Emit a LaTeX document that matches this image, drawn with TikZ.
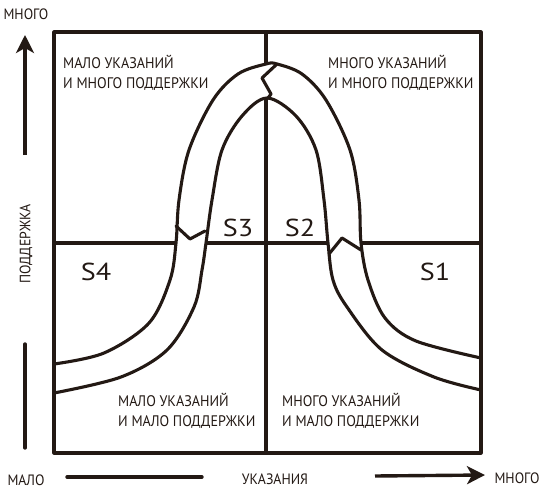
\documentclass[tikz,border=0pt]{standalone}
\usepackage{fontspec}
\setmainfont{PT Sans}
\newfontfamily\condfont{PT Sans}[FakeStretch=0.92]
\newfontfamily\widefont{PT Sans}[FakeStretch=1.15]
\usetikzlibrary{arrows.meta}
\definecolor{ink}{RGB}{35,25,20}
\tikzset{
  ln/.style={draw=ink, line width=3.1pt, line cap=round, line join=round},
  axisarrow/.style={draw=ink, line width=3.4pt, -{Stealth[length=18pt,width=18pt,inset=5pt]}},
  axisline/.style={draw=ink, line width=3.4pt, line cap=round},
  qtext/.style={text=ink, font=\condfont\fontsize{15.3}{20}\selectfont, align=left, inner sep=0pt},
  atext/.style={text=ink, font=\condfont\fontsize{15}{17}\selectfont, inner sep=0pt},
  stext/.style={text=ink, font=\widefont\fontsize{24.5}{26}\selectfont, inner sep=0pt},
}
\begin{document}
\begin{tikzpicture}[x=1pt,y=-1pt]
\useasboundingbox (0,0) rectangle (544,495);
% box corners
\coordinate (tl) at (54,32);
\coordinate (tr) at (481,32);
\coordinate (bl) at (54,453);
\coordinate (br) at (481,453);
\coordinate (mt) at (266,32);
\coordinate (mb) at (266,453);
\coordinate (ml) at (54,243);
\coordinate (mr) at (481,243);
% cross lines
\draw[ln] (mt) -- (mb);
\draw[ln] (ml) -- (mr);
% band
\fill[white] plot[smooth, tension=0.55] coordinates {(54,364) (104,353) (149,323) (170,280) (176,243) (179,200) (189,150) (213,100) (238,74) (266,64) (277,64) (302,74) (326,100) (350,150) (359,200) (361,243) (368,280) (385,318) (416,341) (481,358)}
  -- (481,390)
  -- plot[smooth, tension=0.55] coordinates {(481,390) (434,377) (382,350) (347,307) (333,280) (328,243) (324,200) (316,150) (296,116) (267,98) (242,116) (222,150) (212,200) (206,243) (202,270) (194,307) (167,350) (121,377) (54,393)}
  -- cycle;
\draw[ln] plot[smooth, tension=0.55] coordinates {(54,364) (104,353) (149,323) (170,280) (176,243) (179,200) (189,150) (213,100) (238,74) (266,64) (277,64) (302,74) (326,100) (350,150) (359,200) (361,243) (368,280) (385,318) (416,341) (481,358)};
\draw[ln] plot[smooth, tension=0.55] coordinates {(481,390) (434,377) (382,350) (347,307) (333,280) (328,243) (324,200) (316,150) (296,116) (267,98) (242,116) (222,150) (212,200) (206,243) (202,270) (194,307) (167,350) (121,377) (54,393)};
% zigzag breaks
\coordinate (za1) at (277,64);
\coordinate (za2) at (262,78);
\coordinate (za3) at (271,94);
\coordinate (za4) at (268,98);
\draw[ln] (za1) -- (za2) -- (za3) -- (za4);
\coordinate (zl1) at (176,226);
\coordinate (zl2) at (190,239);
\coordinate (zl3) at (205,231);
\draw[ln] (zl1) -- (zl2) -- (zl3);
\coordinate (zr1) at (329,254);
\coordinate (zr2) at (342,238);
\coordinate (zr3) at (361,250);
\draw[ln] (zr1) -- (zr2) -- (zr3);
% box
\draw[ln] (tl) rectangle (br);
% quadrant texts
\node[qtext, anchor=north west] (qtl) at (63,55) {МАЛО УКАЗАНИЙ\\И МНОГО ПОДДЕРЖКИ};
\node[qtext, anchor=north west] (qtr) at (328,55) {МНОГО УКАЗАНИЙ\\И МНОГО ПОДДЕРЖКИ};
\node[qtext, anchor=north west] (qbl) at (118,393) {МАЛО УКАЗАНИЙ\\И МАЛО ПОДДЕРЖКИ};
\node[qtext, anchor=north west] (qbr) at (282,393) {МНОГО УКАЗАНИЙ\\И МАЛО ПОДДЕРЖКИ};
% S labels
\node[stext] (s3) at (238,228) {S3};
\node[stext] (s2) at (300,228) {S2};
\node[stext] (s4) at (96,272) {S4};
\node[stext] (s1) at (435,272) {S1};
% axes
\node[atext] (ytop) at (26,14) {МНОГО};
\node[atext, rotate=90] (ylab) at (26,244) {ПОДДЕРЖКА};
\node[atext] (xlow) at (26,480) {МАЛО};
\node[atext] (xlab) at (275,479) {УКАЗАНИЯ};
\node[atext] (xhigh) at (517,478) {МНОГО};
\coordinate (ya0) at (25,155);
\coordinate (ya1) at (25,35);
\coordinate (yb0) at (25,448);
\coordinate (yb1) at (25,344);
\draw[axisarrow] (ya0) -- (ya1);
\draw[axisline] (yb0) -- (yb1);
\coordinate (xa0) at (67,477);
\coordinate (xa1) at (202,477);
\coordinate (xb0) at (375,476);
\coordinate (xb1) at (485,475);
\draw[axisline] (xa0) -- (xa1);
\draw[axisarrow] (xb0) -- (xb1);
\end{tikzpicture}
\end{document}
